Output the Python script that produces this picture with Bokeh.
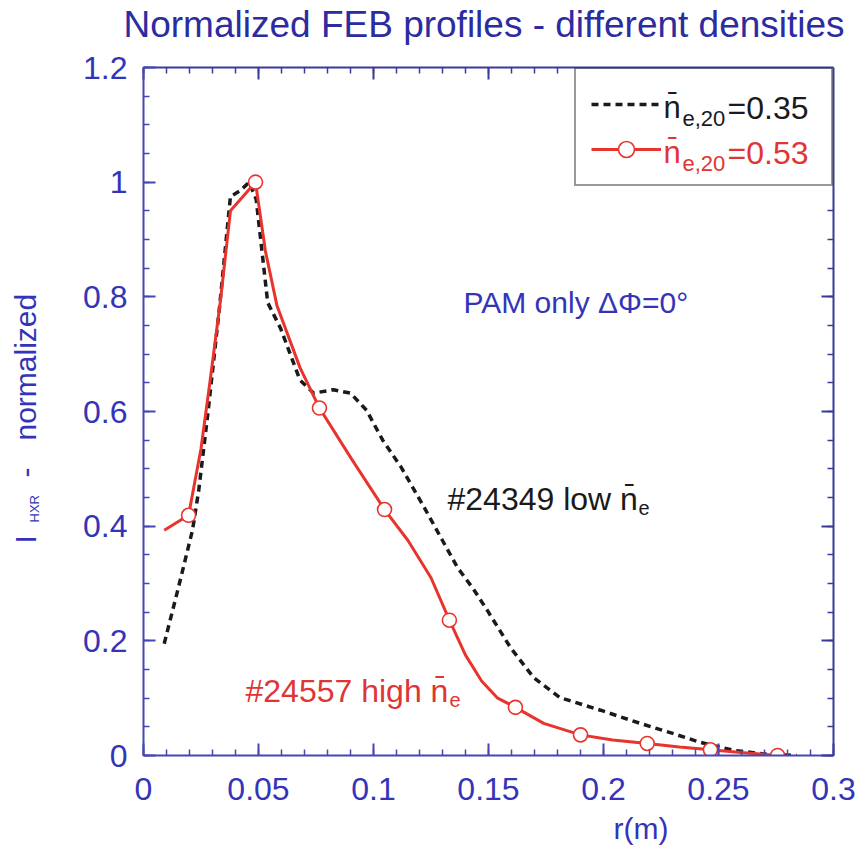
import numpy as np
from bokeh.plotting import figure
from bokeh.layouts import row
from bokeh.models import (Range1d, FixedTicker, LinearAxis, Label, Legend, LegendItem,
                          CustomJSTickFormatter, Title)
from bokeh.embed import file_html
from bokeh.resources import INLINE

# ---------------- data ----------------
# shot #24349, low density  n_e,20 = 0.35  (dashed black)
low_r = [0.009, 0.015, 0.0213, 0.024, 0.028, 0.033, 0.0378, 0.042, 0.046, 0.049,
         0.054, 0.0596, 0.068, 0.074, 0.0826, 0.090, 0.097, 0.104, 0.112, 0.122,
         0.130, 0.1365, 0.1435, 0.1495, 0.1596, 0.1696, 0.181, 0.1987, 0.216,
         0.2305, 0.242, 0.2565, 0.271, 0.284]
low_i = [0.195, 0.29, 0.393, 0.462, 0.597, 0.78, 0.975, 0.985, 1.0, 0.97,
         0.79, 0.745, 0.655, 0.632, 0.638, 0.632, 0.602, 0.55, 0.503, 0.433,
         0.375, 0.328, 0.29, 0.253, 0.188, 0.136, 0.101, 0.079, 0.056,
         0.038, 0.023, 0.009, 0.002, 0.0]

# shot #24557, high density  n_e,20 = 0.53  (red line)
high_r = [0.009, 0.0196, 0.025, 0.029, 0.0335, 0.0378, 0.0487, 0.053, 0.058, 0.068,
          0.0765, 0.0905, 0.1048, 0.115, 0.125, 0.133, 0.14, 0.147, 0.154, 0.1617,
          0.174, 0.19, 0.204, 0.219, 0.233, 0.2465, 0.261, 0.2757]
high_i = [0.393, 0.419, 0.535, 0.655, 0.795, 0.95, 1.0, 0.88, 0.785, 0.677,
          0.606, 0.517, 0.429, 0.375, 0.31, 0.236, 0.175, 0.13, 0.10, 0.084,
          0.056, 0.036, 0.027, 0.021, 0.015, 0.010, 0.005, 0.0]
# open-circle markers on the red curve
high_mk_r = [0.0196, 0.0487, 0.0765, 0.1048, 0.133, 0.1617, 0.19, 0.219, 0.2465, 0.2757]
high_mk_i = [0.419, 1.0, 0.606, 0.429, 0.236, 0.084, 0.036, 0.021, 0.010, 0.0]

x_ticks = [0, 0.05, 0.1, 0.15, 0.2, 0.25, 0.3]
x_tick_labels = ["0", "0.05", "0.1", "0.15", "0.2", "0.25", "0.3"]
y_ticks = [0, 0.2, 0.4, 0.6, 0.8, 1.0, 1.2]
y_tick_labels = ["0", "0.2", "0.4", "0.6", "0.8", "1", "1.2"]
x_minor = [round(v, 3) for v in np.arange(0, 0.3001, 0.01)]
y_minor = [round(v, 3) for v in np.arange(0, 1.2001, 0.05)]
# mirrored ticks on top / right stop where the legend box sits
top_ticks = [t for t in x_ticks if t < 0.185]
top_minor = [t for t in x_minor if t < 0.185]
right_ticks = [t for t in y_ticks if t < 0.99]
right_minor = [t for t in y_minor if t < 0.99]

# ---------------- layout ----------------
W, H = 868, 858
YW = 60                              # strip on the left holding the y title
FL, FR, FT, FB = 143, 833, 67, 755   # frame edges in page pixels
FONT = "Liberation Sans"
BLUE_T = "#2c2ca0"
BLUE = "#3434b8"
AXC = "#4646b4"
RED = "#e8342c"
RED_T = "#e03535"
BLK = "#1a1a1a"

p = figure(width=W - YW, height=H, x_range=Range1d(0, 0.3), y_range=Range1d(0, 1.2),
           output_backend="svg", toolbar_location=None,
           x_axis_type=None, y_axis_type=None,
           min_border_left=FL - YW, min_border_right=W - FR,
           min_border_top=FT, min_border_bottom=H - FB)
p.outline_line_color = None
p.background_fill_color = "white"
p.border_fill_color = "white"


def make_axis(ticks, minor, labels, show, color=AXC, standoff=14):
    ax = LinearAxis(ticker=FixedTicker(ticks=ticks, minor_ticks=minor))
    ax.axis_line_color = color
    ax.axis_line_width = 2
    ax.major_tick_line_color = color
    ax.major_tick_line_width = 2
    ax.major_tick_in = 12
    ax.major_tick_out = 0
    ax.minor_tick_line_color = color
    ax.minor_tick_line_width = 1.5
    ax.minor_tick_in = 6
    ax.minor_tick_out = 0
    if show:
        ax.formatter = CustomJSTickFormatter(args=dict(t=ticks, l=labels), code="""
            let best = 0, d = 1e9;
            for (let k = 0; k < t.length; k++) {
                const dd = Math.abs(t[k] - tick);
                if (dd < d) { d = dd; best = k; }
            }
            return l[best];
        """)
        ax.major_label_text_font = FONT
        ax.major_label_text_font_size = "32px"
        ax.major_label_text_color = BLUE
        ax.major_label_standoff = standoff
    else:
        ax.formatter = CustomJSTickFormatter(code="return '';")
        ax.major_label_text_font_size = "1px"
        ax.major_label_standoff = 0
    return ax


p.add_layout(make_axis(x_ticks, x_minor, x_tick_labels, True, standoff=22), "below")
p.add_layout(make_axis(y_ticks, y_minor, y_tick_labels, True, standoff=16), "left")
top_ax = make_axis(top_ticks, top_minor, x_tick_labels, False, color="#3a3a9a")
# an invisible axis label keeps the title well above the frame
top_ax.axis_label = "\u00a0"
top_ax.axis_label_text_font_size = "1px"
top_ax.axis_label_standoff = 19
p.add_layout(top_ax, "above")
p.add_layout(make_axis(right_ticks, right_minor, y_tick_labels, False, color="#3a3a9a"), "right")

# title (above) and x title (below, right of centre as in the reference)
p.title.text = "Normalized FEB profiles - different densities"
p.title.align = "left"
p.title.offset = -20
p.title.text_font = FONT
p.title.text_font_size = "37px"
p.title.text_font_style = "normal"
p.title.text_color = BLUE_T
p.title.standoff = 0

p.add_layout(Title(text="r(m)", align="left", offset=470, text_font=FONT,
                   text_font_size="30px", text_font_style="normal",
                   text_color=BLUE, standoff=14), "below")

# ---------------- curves ----------------
low = p.line(low_r, low_i, line_color=BLK, line_width=3.5, line_dash="7 5")
high = p.line(high_r, high_i, line_color=RED, line_width=3)
mk = p.scatter(high_mk_r, high_mk_i, marker="circle", size=14, fill_color="white",
               line_color=RED, line_width=1.6)

# ---------------- legend box with samples ----------------
leg = Legend(items=[LegendItem(label=" ", renderers=[low]),
                    LegendItem(label=" ", renderers=[high, mk])],
             location="top_right", margin=0, padding=15, spacing=5,
             glyph_height=40, glyph_width=70, label_standoff=0,
             label_width=155, label_height=40, label_text_font_size="10px",
             border_line_color="#333333", border_line_width=2,
             background_fill_alpha=0.0)
p.add_layout(leg)


def lab(fig, text, sx, sy, size, color, align="left", angle=0.0):
    """Text anchored on its baseline at screen position (sx, sy) of the frame."""
    fig.add_layout(Label(x=sx, y=sy, x_units="screen", y_units="screen",
                         text=text, text_font=FONT, text_font_size=f"{size}px",
                         text_color=color, text_align=align,
                         text_baseline="alphabetic", angle=angle, level="overlay"))


def labp(text, cx, cy, size, color, align="left"):
    # page pixel -> main frame screen coordinates
    lab(p, text, cx - FL, FB - cy, size, color, align)


NBAR = "n\u0304"

# legend texts
for k, (val, col) in enumerate([("=0.35", BLK), ("=0.53", RED_T)]):
    by = 107 + 45 * k
    labp(NBAR, 663, by, 31, col)
    labp("e,20", 682, by + 11, 22, col)
    labp(val, 727, by, 32, col)

# annotations
labp("PAM only \u0394\u03a6=0\u00b0", 463, 302, 30, BLUE)
labp("#24349 low " + NBAR, 447, 498, 32, BLK)
labp("e", 638, 507, 20, BLK)
labp("#24557 high " + NBAR, 245, 690, 32, RED_T)
labp("e", 449, 699, 20, RED_T)

# ---------------- y title strip ----------------
yf = figure(width=YW, height=H, x_range=Range1d(0, YW), y_range=Range1d(0, H),
            output_backend="svg", toolbar_location=None, title_location=None,
            x_axis_type=None, y_axis_type=None, min_border=0)
yf.outline_line_color = None
yf.background_fill_color = "white"
yf.border_fill_color = "white"

YX_SHIFT = -12   # measured offset of this strip's frame


def laby(text, cx, cy, size):
    # frame of the strip is aligned with the main frame (FT..FB)
    lab(yf, text, cx + YX_SHIFT, FB - cy, size, BLUE, angle=np.pi / 2)


laby("I", 37, 543, 30)
laby("HXR", 46, 522, 13)
laby("-", 37, 477, 30)
laby("normalized", 37, 440, 30)

page = row(yf, p, spacing=0)
open("out.html", "w").write(file_html(page, INLINE))
